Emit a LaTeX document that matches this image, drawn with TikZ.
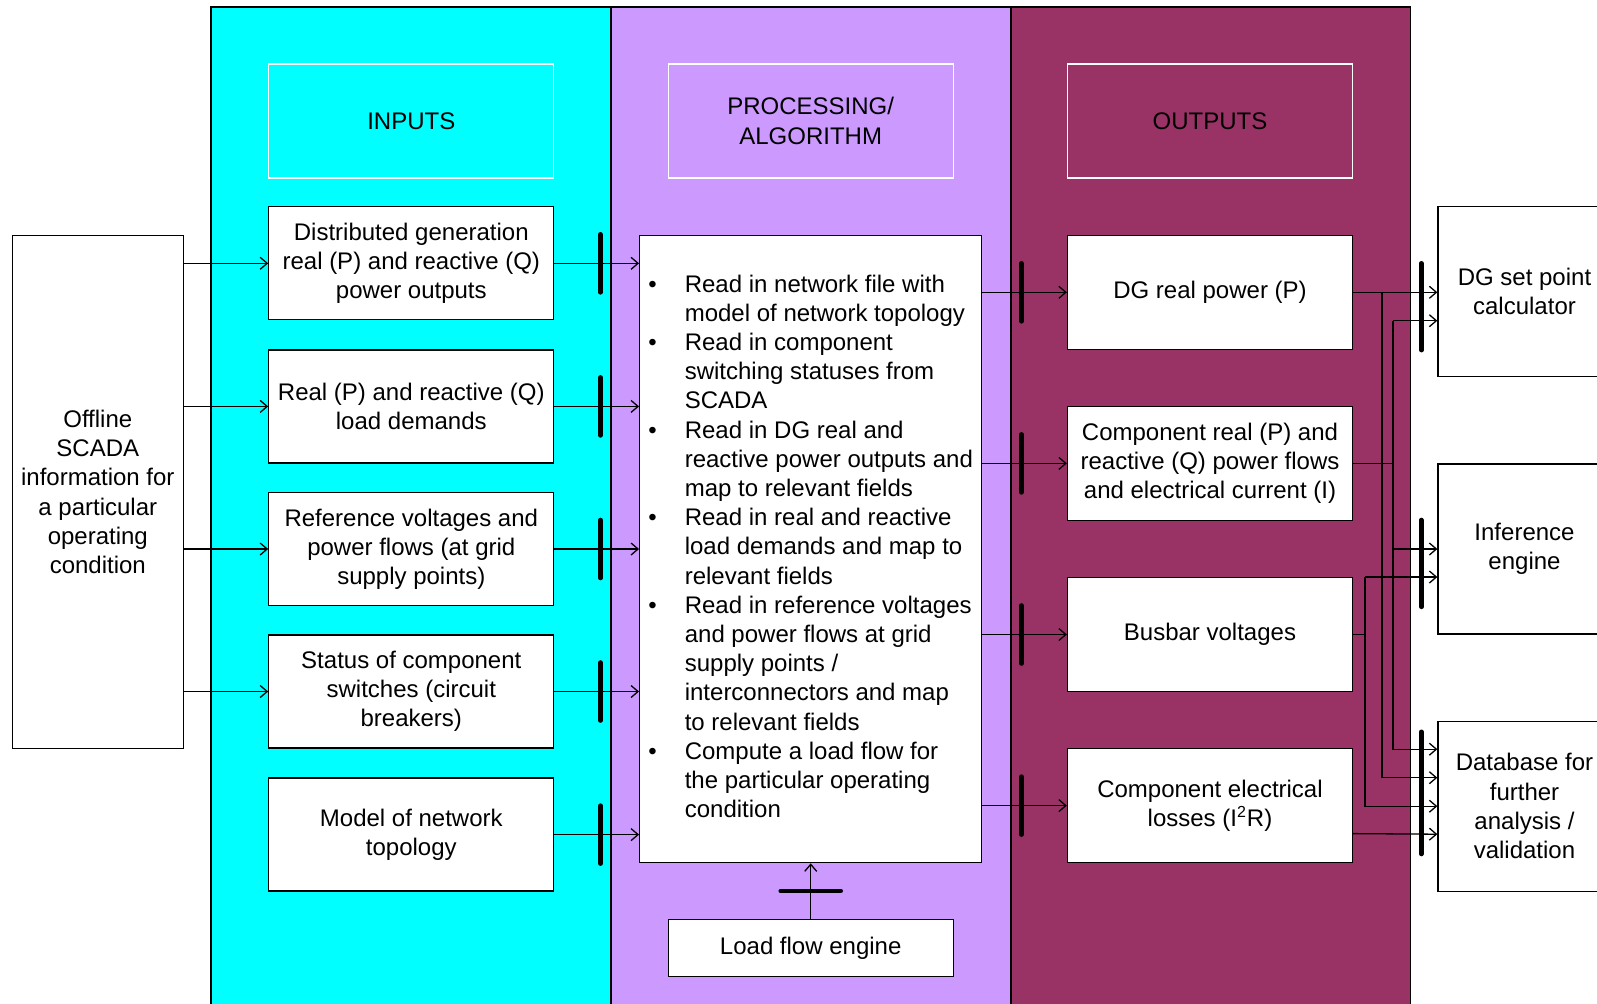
\documentclass[tikz,border=0pt]{standalone}
\usepackage{fontspec}
\setmainfont{Liberation Sans}
\usetikzlibrary{arrows.meta}
\definecolor{inputcol}{RGB}{0,255,255}
\definecolor{proccol}{RGB}{204,153,255}
\definecolor{outcol}{RGB}{153,51,102}
\tikzset{
  box/.style={draw=black,fill=white,align=center,inner sep=2pt},
  head/.style={draw=white,align=center,minimum width=142.5pt,minimum height=57pt},
  flow/.style={-{Straight Barb[length=3.5pt,width=6pt]}},
  bar/.style={line width=2.3pt,line cap=round},
}
\begin{document}
\begin{tikzpicture}[x=0.5pt,y=-0.5pt,line width=0.65pt,font=\fontsize{12}{14.6}\selectfont]
  \useasboundingbox (0,0) rectangle (1597,1003);
  \clip (0,0) rectangle (1597,1003);
  \fill[white] (0,0) rectangle (1597,1003);
  % columns
  \draw[fill=inputcol] (211,7) rectangle (611,1020);
  \draw[fill=proccol] (611,7) rectangle (1011,1020);
  \draw[fill=outcol] (1011,7) rectangle (1410.5,1020);
  % headers
  \node[head] (hin) at (411.3,121) {INPUTS};
  \node[head] (hproc) at (810.7,121) {PROCESSING/\\ALGORITHM};
  \node[head] (hout) at (1210,121) {OUTPUTS};
  \node[box,minimum width=85.5pt,minimum height=256.5pt] (scada) at (97.8,492)
    {Offline\\SCADA\\information for\\a particular\\operating\\condition};
  \begin{scope}[every node/.style={box,minimum width=142.5pt,minimum height=56.5pt}]
    \node (in1) at (411.3,263.3) {Distributed generation\\real (P) and reactive (Q)\\power outputs};
    \node (in2) at (411.3,406.4) {Real (P) and reactive (Q)\\load demands};
    \node (in3) at (411.3,549) {Reference voltages and\\power flows (at grid\\supply points)};
    \node (in4) at (411.3,691.5) {Status of component\\switches (circuit\\breakers)};
    \node (in5) at (411.3,834.6) {Model of network\\topology};
  \end{scope}
  \node[box,minimum width=171pt,minimum height=313.7pt] (proc) at (810.7,549) {%
    \begin{tabular}{@{}l@{\hspace{14pt}}l@{}}
      \textbullet & Read in network file with\\
                  & model of network topology\\
      \textbullet & Read in component\\
                  & switching statuses from\\
                  & SCADA\\
      \textbullet & Read in DG real and\\
                  & reactive power outputs and\\
                  & map to relevant fields\\
      \textbullet & Read in real and reactive\\
                  & load demands and map to\\
                  & relevant fields\\
      \textbullet & Read in reference voltages\\
                  & and power flows at grid\\
                  & supply points /\\
                  & interconnectors and map\\
                  & to relevant fields\\
      \textbullet & Compute a load flow for\\
                  & the particular operating\\
                  & condition
    \end{tabular}};
  \node[box,minimum width=142.5pt,minimum height=28.5pt] (lfe) at (810.7,948.3) {Load flow engine};
  \begin{scope}[every node/.style={box,minimum width=142.5pt,minimum height=57pt}]
    \node (out1) at (1210,292.3) {DG real power (P)};
    \node (out2) at (1210,463.4) {Component real (P) and\\reactive (Q) power flows\\and electrical current (I)};
    \node (out3) at (1210,634.5) {Busbar voltages};
    \node (out4) at (1210,805.6) {Component electrical\\losses (I\textsuperscript{2}R)};
  \end{scope}
  \begin{scope}[every node/.style={box,minimum width=86.5pt,minimum height=85pt}]
    \node (dgsp) at (1524.5,291.7) {DG set point\\calculator};
    \node (infe) at (1524.5,549) {Inference\\engine};
    \node (db) at (1524.5,806.2) {Database for\\further\\analysis /\\validation};
  \end{scope}
  % inputs
  \foreach \i in {1,...,4}
    \draw[flow] (scada.east |- in\i.west) -- (in\i.west);
  \foreach \i in {1,...,5} {
    \draw[flow] (in\i.east) -- (in\i.east -| proc.west);
    \draw[bar] ([xshift=23pt,yshift=14.5pt]in\i.east) -- ([xshift=23pt,yshift=-14.5pt]in\i.east);
  }
  % outputs
  \foreach \i in {1,...,4} {
    \draw[flow] (proc.east |- out\i.west) -- (out\i.west);
    \draw[bar] ([xshift=-22.7pt,yshift=14.5pt]out\i.west) -- ([xshift=-22.7pt,yshift=-14.5pt]out\i.west);
  }
  \draw[flow] (lfe.north) -- (proc.south);
  \draw[bar] ([xshift=-15pt,yshift=14.1pt]lfe.north) -- ([xshift=15pt,yshift=14.1pt]lfe.north);
  % buses to the right
  \coordinate (busA) at (1365,0);
  \coordinate (busB) at (1382,0);
  \coordinate (busC) at (1393,0);
  \coordinate (dg2) at ([yshift=-14.5pt]dgsp.west);
  \coordinate (ie1) at (infe.west);
  \coordinate (ie2) at ([yshift=-14pt]infe.west);
  \coordinate (db1) at ([yshift=28.5pt]db.west);
  \coordinate (db2) at ([yshift=14.25pt]db.west);
  \coordinate (db3) at (db.west);
  \coordinate (db4) at ([yshift=-14pt]db.west);
  \draw[flow] (out1.east) -- (out1.east -| dgsp.west);
  \draw[flow] (out1.east -| busB) |- (db2);
  \draw (out2.east) -- (out2.east -| busC);
  \draw[flow] (busC |- dg2) -- (dg2);
  \draw[flow] (busC |- dg2) |- (db1);
  \draw[flow] (busC |- ie1) -- (ie1);
  \draw (out3.east) -- (out3.east -| busA);
  \draw[flow] (busA |- ie2) -- (ie2);
  \draw[flow] (busA |- ie2) |- (db3);
  \draw[flow] ([yshift=-14pt]out4.east) -- (db4);
  \draw[bar] ([xshift=-8pt,yshift=14.2pt]dgsp.west) -- ([xshift=-8pt,yshift=-29.2pt]dgsp.west);
  \draw[bar] ([xshift=-8pt,yshift=14.5pt]infe.west) -- ([xshift=-8pt,yshift=-28.9pt]infe.west);
  \draw[bar] ([xshift=-8pt,yshift=37.2pt]db.west) -- ([xshift=-8pt,yshift=-23.9pt]db.west);
\end{tikzpicture}
\end{document}
